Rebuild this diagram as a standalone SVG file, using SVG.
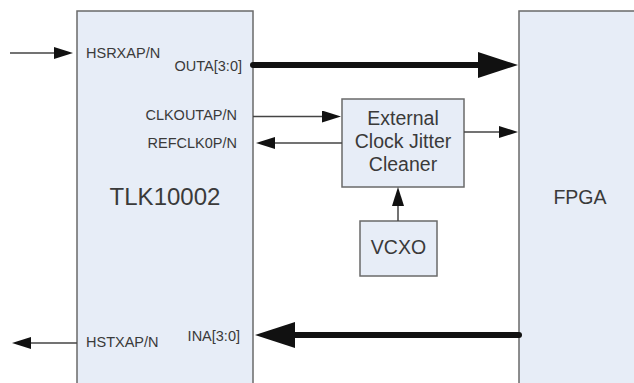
<svg xmlns="http://www.w3.org/2000/svg" width="634" height="383" viewBox="0 0 634 383">
<style>
.box{fill:#e7edf7;stroke:#6a6a6a;stroke-width:1.5}
.t{font-family:"Liberation Sans",Arial,sans-serif;fill:#3a3a3a}
.lbl{font-size:14.5px}
.big{font-size:19.5px}
.thin{stroke:#444;stroke-width:1.5;fill:none}
.thick{stroke:#111;stroke-width:6;fill:none;stroke-linecap:round}
</style>
<defs>
<marker id="ah" markerUnits="userSpaceOnUse" markerWidth="19" markerHeight="12" refX="2" refY="6" orient="auto"><path d="M0,0 L19,6 L0,12 z" fill="#111"/></marker>
<marker id="ahb" markerUnits="userSpaceOnUse" markerWidth="40" markerHeight="26" refX="2" refY="13" orient="auto"><path d="M0,0 L40,13 L0,26 z" fill="#111"/></marker>
</defs>
<rect width="634" height="383" fill="#fff"/>
<g id="tlk">
<rect class="box" x="77" y="11" width="176" height="400"/>
<text class="t" x="165" y="205" font-size="24" text-anchor="middle">TLK10002</text>
<text class="t lbl" x="86" y="58">HSRXAP/N</text>
<text class="t lbl" x="242" y="70.5" text-anchor="end">OUTA[3:0]</text>
<text class="t lbl" x="237" y="120" text-anchor="end">CLKOUTAP/N</text>
<text class="t lbl" x="237" y="148" text-anchor="end">REFCLK0P/N</text>
<text class="t lbl" x="86" y="347">HSTXAP/N</text>
<text class="t lbl" x="240" y="341" text-anchor="end">INA[3:0]</text>
</g>
<g id="fpga">
<rect class="box" x="519" y="11" width="200" height="400"/>
<text class="t big" x="580" y="204" text-anchor="middle">FPGA</text>
</g>
<g id="cleaner">
<rect class="box" x="342" y="99" width="122" height="88"/>
<text class="t big" x="403" y="125" text-anchor="middle">External</text>
<text class="t big" x="403" y="148" text-anchor="middle">Clock Jitter</text>
<text class="t big" x="403" y="171" text-anchor="middle">Cleaner</text>
</g>
<g id="vcxo">
<rect class="box" x="360" y="221" width="77" height="55"/>
<text class="t big" x="398.5" y="254" text-anchor="middle">VCXO</text>
</g>
<g id="connectors">
<path class="thin" d="M10,53 L56,53" marker-end="url(#ah)"/>
<path class="thick" d="M253,65 L480,65" marker-end="url(#ahb)"/>
<path class="thin" d="M253,116.5 L324,116.5" marker-end="url(#ah)"/>
<path class="thin" d="M342,143 L273,143" marker-end="url(#ah)"/>
<path class="thin" d="M464,132 L501,132" marker-end="url(#ah)"/>
<path class="thin" d="M398,221 L398,204" marker-end="url(#ah)"/>
<path class="thin" d="M77,343 L29,343" marker-end="url(#ah)"/>
<path class="thick" d="M519,335 L293,335" marker-end="url(#ahb)"/>
</g>
</svg>
